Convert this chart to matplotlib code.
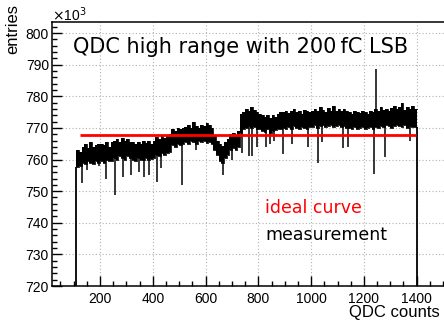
import numpy as np
import matplotlib
matplotlib.use("Agg")
from matplotlib import pyplot as plt
from matplotlib.ticker import MultipleLocator

# histogram: bin edges every 10 counts from 110 to 1400,
# upper and lower edge of the (noisy) black band in each bin, in units of 10^3
BIN_START = 110
BIN_WIDTH = 10
band_hi = [763, 762.5,
           764, 765, 763.5, 765.5, 764, 764.5, 765,
           765, 764.5, 765.5, 764, 765.5,
           766, 766.5, 765.5, 766.8, 766, 766.5, 765.5,
           765.5, 764.8, 765.5, 765, 766, 765.2, 765.8, 765,
           766, 767, 766.5, 767.5, 766.8, 767.5, 768,
           769.5, 769, 770, 769.5, 770,
           770.2, 771, 770, 771.8, 770.5, 770, 771, 770.5, 771.5, 770.8, 770,
           767.5, 766, 764.8, 764.3, 765.5, 766.5,
           768, 768.5, 767.5, 769,
           774.5, 775, 776, 775.5, 776.5, 775.8, 775,
           774.5, 774, 773.5, 774, 773, 774.2, 773.5, 774.5, 775,
           775, 775.5, 774.8, 775.2, 776, 775, 775.5, 774.5, 775.8, 775.2, 775,
           775.5, 776, 775.2, 776.5, 775.8, 775, 776.2, 775.5, 776.8, 775.5, 776, 775.3, 776, 775.5,
           775, 774.5, 775.5, 775, 774.8, 775.5, 775, 774.5, 775.2, 775,
           776, 775.5, 776.5, 775.8, 776, 775.5, 776.2, 777, 776, 776.5, 777.8, 775.8, 776.5, 776, 776.8, 776]
band_lo = [757.5, 758,
           759, 758.5, 759.5, 759, 758.5, 759.5, 759,
           759.5, 759, 760, 759.5, 759.5,
           760.5, 760, 761, 760.5, 760, 761, 760.5,
           760, 759.5, 760.5, 760, 759.8, 760.5, 760, 760.2,
           760.5, 761.5, 761, 762, 761.5, 762, 762.5,
           764.5, 764, 765, 764.5, 765,
           765.5, 765, 766, 765.5, 765, 765.8, 765.5, 766, 765.2, 765.5, 765,
           763, 761.5, 759.5, 759, 760.5, 761.5,
           763, 763.5, 763, 764,
           768.5, 769.5, 770, 770.5, 770, 770.3, 769.5,
           769.5, 769, 768.8, 769.5, 768.5, 769, 769.2, 769.5, 769.8,
           770, 769.5, 770.2, 769.8, 770.5, 770, 769.5, 770.2, 770, 769.8, 770.3,
           770.3, 770.8, 770, 770.5, 771, 770.2, 770.5, 770.8, 770.2, 770.5, 770.8, 770.2, 770.5, 770,
           770, 769.5, 770.2, 769.8, 770, 770.3, 769.8, 770, 770.2, 769.8,
           770.3, 770, 770.5, 770.2, 770.8, 770.5, 770, 770.5, 771, 770.5, 770.2, 770.8, 770, 770.5, 770.2, 770.3]

# single bins sticking out of the band
spike_pos = [131, 152, 196, 224, 258, 287, 319, 348, 367, 386, 416, 433, 511,
             563, 665, 700, 737, 764, 775, 796, 829, 844, 861, 893, 927, 990,
             1025, 1041, 1121, 1139, 1239, 1245, 1281, 1375]
spike_val = [752.5, 756.8, 758, 754, 748.8, 754.6, 755, 756, 754.6, 755, 753, 757.3, 751.8,
             763, 755, 760, 762.2, 761.2, 761, 763.9, 764, 765, 766, 761.8, 765, 764,
             759, 765.5, 763.8, 764, 755.3, 788.5, 760.8, 766]

IDEAL = 767.7  # flat ideal curve
ideal_range = [126, 1397]

TITLE = "QDC high range with 200\u2009fC LSB"

fig = plt.figure(figsize=(4.44, 3.21), dpi=100)
ax = fig.add_axes([51.7/444, 35/321, 394/444, 264/321])

edges = BIN_START + BIN_WIDTH*np.arange(len(band_hi) + 1)
hi = np.append(band_hi, band_hi[-1])
lo = np.append(band_lo, band_lo[-1])
ax.fill_between(edges, lo, hi, step='post', color='black', lw=0, zorder=3)
ax.step(edges, hi, where='post', color='black', lw=0.6, zorder=3)
ax.step(edges, lo, where='post', color='black', lw=0.6, zorder=3)

# spikes go from the band to their value
idx = np.clip((np.array(spike_pos) - BIN_START)//BIN_WIDTH, 0, len(band_hi)-1)
mid = (np.array(band_hi)[idx] + np.array(band_lo)[idx])/2
ax.vlines(spike_pos, np.minimum(mid, spike_val), np.maximum(mid, spike_val),
          color='black', lw=1.1, zorder=3)

# histogram drops to zero on both ends
ax.vlines([edges[0], edges[-1]], 700, [band_lo[0], band_lo[-1]], color='black', lw=1.3, zorder=3)

ax.hlines(IDEAL, ideal_range[0], ideal_range[1], color='#ff0000', lw=2, zorder=4)

ax.set_xlim(17, 1510)
ax.set_ylim(720, 803.5)
ax.xaxis.set_major_locator(MultipleLocator(200))
ax.xaxis.set_minor_locator(MultipleLocator(50))
ax.yaxis.set_major_locator(MultipleLocator(10))
ax.yaxis.set_minor_locator(MultipleLocator(2))
ax.tick_params(which='both', direction='in', top=False, right=False,
               labelsize=10, width=1)
ax.tick_params(which='major', length=7)
ax.tick_params(which='minor', length=3.6)
ax.tick_params(axis='x', pad=4)
ax.tick_params(axis='y', pad=2)
for lab in ax.get_xticklabels() + ax.get_yticklabels():
    lab.set_family('Liberation Sans')
for s in ax.spines.values():
    s.set_linewidth(1.1)

ax.grid(True, which='major', color='#b0b0b0', linestyle=(0, (1, 2)), lw=0.8)
ax.set_axisbelow(True)

fig.text(440/444, 1 - 313/321, "QDC counts", ha='right', va='center',
         fontsize=12, family='Liberation Sans')
fig.text(13/444, 1 - 4/321, "entries", rotation=90, ha='center', va='top',
         fontsize=12, family='Liberation Sans')
fig.text(52/444, 1 - 15/321, r"$\times$10$^{3}$", ha='left', va='center',
         fontsize=10, family='Liberation Sans')

ax.text(73/444, 1 - 47/321, TITLE, transform=fig.transFigure, ha='left', va='center',
        fontsize=15, family='DejaVu Sans', zorder=5)
ax.text(265/444, 1 - 208/321, "ideal curve", transform=fig.transFigure, color='#ff0000',
        ha='left', va='center', fontsize=12.5, family='DejaVu Sans')
ax.text(265/444, 1 - 235/321, "measurement", transform=fig.transFigure, color='black',
        ha='left', va='center', fontsize=12.5, family='DejaVu Sans')

fig.savefig("out.png", dpi=100)
